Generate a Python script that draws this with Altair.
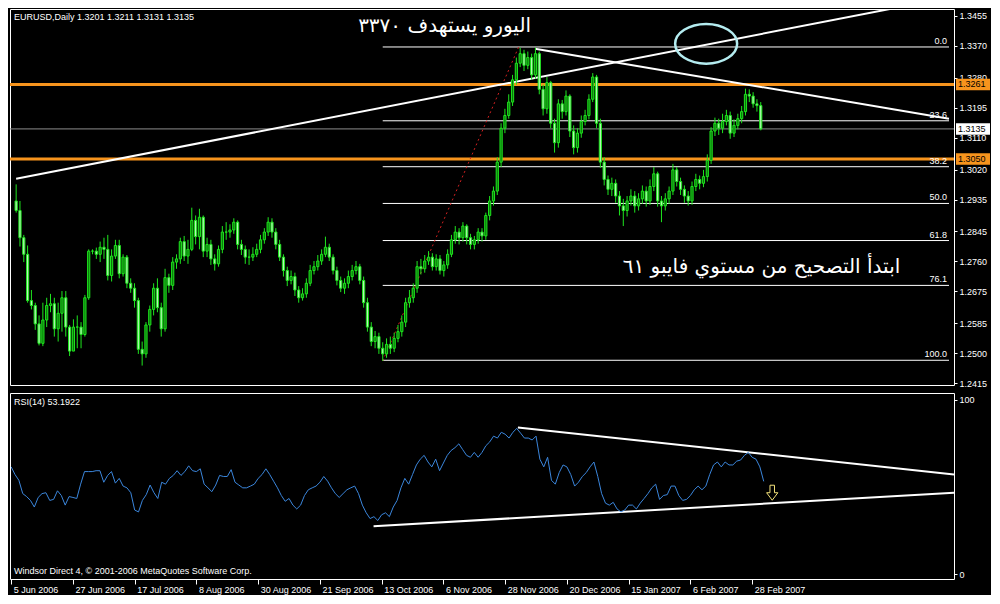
import altair as alt
import pandas as pd

date_labels = ["5 Jun 2006", "27 Jun 2006", "17 Jul 2006", "8 Aug 2006", "30 Aug 2006",
               "21 Sep 2006", "13 Oct 2006", "6 Nov 2006", "28 Nov 2006", "20 Dec 2006",
               "15 Jan 2007", "6 Feb 2007", "28 Feb 2007"]
date_ticks = [0, 16, 32, 48, 64, 80, 96, 112, 128, 144, 160, 176, 192]

closes = [1.2904, 1.2827, 1.2780, 1.2649, 1.2635, 1.2583, 1.2528, 1.2594, 1.2635, 1.2640,
          1.2569, 1.2613, 1.2657, 1.2574, 1.2506, 1.2574, 1.2574, 1.2553, 1.2657, 1.2789,
          1.2789, 1.2780, 1.2800, 1.2794, 1.2720, 1.2775, 1.2805, 1.2725, 1.2772, 1.2698,
          1.2684, 1.2649, 1.2511, 1.2498, 1.2580, 1.2624, 1.2684, 1.2629, 1.2569, 1.2714,
          1.2692, 1.2758, 1.2767, 1.2816, 1.2775, 1.2794, 1.2876, 1.2830, 1.2885, 1.2789,
          1.2808, 1.2767, 1.2753, 1.2794, 1.2843, 1.2843, 1.2849, 1.2871, 1.2808, 1.2794,
          1.2772, 1.2772, 1.2780, 1.2794, 1.2821, 1.2843, 1.2871, 1.2843, 1.2808, 1.2772,
          1.2734, 1.2706, 1.2717, 1.2679, 1.2657, 1.2668, 1.2698, 1.2734, 1.2745, 1.2761,
          1.2780, 1.2800, 1.2772, 1.2734, 1.2706, 1.2684, 1.2698, 1.2717, 1.2734, 1.2745,
          1.2706, 1.2643, 1.2574, 1.2533, 1.2547, 1.2514, 1.2498, 1.2525, 1.2514, 1.2542,
          1.2561, 1.2588, 1.2643, 1.2657, 1.2684, 1.2745, 1.2739, 1.2761, 1.2772, 1.2745,
          1.2767, 1.2734, 1.2750, 1.2780, 1.2821, 1.2843, 1.2827, 1.2860, 1.2827, 1.2808,
          1.2821, 1.2843, 1.2832, 1.2890, 1.2931, 1.2959, 1.3041, 1.3137, 1.3173, 1.3211,
          1.3274, 1.3321, 1.3348, 1.3315, 1.3337, 1.3288, 1.3348, 1.3247, 1.3192, 1.3266,
          1.3151, 1.3096, 1.3206, 1.3184, 1.3228, 1.3129, 1.3082, 1.3123, 1.3156, 1.3173,
          1.3219, 1.3282, 1.3151, 1.3041, 1.2992, 1.2964, 1.2981, 1.2945, 1.2917, 1.2904,
          1.2931, 1.2945, 1.2917, 1.2937, 1.2959, 1.2931, 1.2972, 1.3008, 1.2931, 1.2917,
          1.2937, 1.2959, 1.3019, 1.2986, 1.2964, 1.2945, 1.2931, 1.2972, 1.2992, 1.2981,
          1.3000, 1.3046, 1.3129, 1.3151, 1.3137, 1.3156, 1.3173, 1.3123, 1.3145, 1.3164,
          1.3184, 1.3233, 1.3228, 1.3206, 1.3201, 1.3135]
first_open = 1.2931

highs = [1.2978, 1.2931, 1.2835, 1.2805, 1.2679, 1.2643, 1.2607, 1.2643, 1.2657, 1.2668,
         1.2657, 1.2643, 1.2676, 1.2676, 1.2580, 1.2596, 1.2607, 1.2588, 1.2665, 1.2794,
         1.2794, 1.2799, 1.2816, 1.2827, 1.2835, 1.2794, 1.2821, 1.2821, 1.2780, 1.2778,
         1.2712, 1.2698, 1.2657, 1.2533, 1.2588, 1.2635, 1.2698, 1.2712, 1.2643, 1.2739,
         1.2725, 1.2772, 1.2780, 1.2827, 1.2832, 1.2821, 1.2912, 1.2890, 1.2909, 1.2890,
         1.2827, 1.2821, 1.2780, 1.2805, 1.2860, 1.2871, 1.2865, 1.2882, 1.2876, 1.2821,
         1.2805, 1.2794, 1.2800, 1.2810, 1.2835, 1.2854, 1.2885, 1.2882, 1.2854, 1.2821,
         1.2780, 1.2745, 1.2734, 1.2728, 1.2690, 1.2684, 1.2712, 1.2750, 1.2761, 1.2778,
         1.2794, 1.2830, 1.2810, 1.2780, 1.2745, 1.2717, 1.2712, 1.2734, 1.2750, 1.2761,
         1.2753, 1.2717, 1.2657, 1.2588, 1.2563, 1.2558, 1.2531, 1.2542, 1.2547, 1.2558,
         1.2580, 1.2607, 1.2657, 1.2679, 1.2698, 1.2761, 1.2767, 1.2778, 1.2789, 1.2783,
         1.2780, 1.2778, 1.2761, 1.2794, 1.2835, 1.2860, 1.2854, 1.2871, 1.2865, 1.2838,
         1.2832, 1.2854, 1.2854, 1.2898, 1.2945, 1.2972, 1.3055, 1.3151, 1.3192, 1.3233,
         1.3288, 1.3337, 1.3365, 1.3359, 1.3354, 1.3348, 1.3365, 1.3354, 1.3260, 1.3282,
         1.3271, 1.3164, 1.3219, 1.3217, 1.3244, 1.3233, 1.3145, 1.3137, 1.3173, 1.3189,
         1.3233, 1.3293, 1.3288, 1.3164, 1.3055, 1.3003, 1.2997, 1.2992, 1.2959, 1.2937,
         1.2945, 1.2964, 1.2959, 1.2953, 1.2975, 1.2972, 1.2992, 1.3027, 1.3014, 1.2945,
         1.2953, 1.2972, 1.3036, 1.3027, 1.2997, 1.2975, 1.2959, 1.2986, 1.3008, 1.3003,
         1.3019, 1.3063, 1.3140, 1.3167, 1.3164, 1.3178, 1.3189, 1.3184, 1.3162, 1.3178,
         1.3200, 1.3249, 1.3247, 1.3239, 1.3219, 1.3211]

lows = [1.2898, 1.2802, 1.2758, 1.2643, 1.2624, 1.2566, 1.2522, 1.2520, 1.2574, 1.2616,
        1.2547, 1.2533, 1.2561, 1.2547, 1.2492, 1.2506, 1.2514, 1.2514, 1.2547, 1.2651,
        1.2780, 1.2767, 1.2758, 1.2767, 1.2706, 1.2703, 1.2767, 1.2712, 1.2717, 1.2684,
        1.2671, 1.2629, 1.2498, 1.2465, 1.2487, 1.2561, 1.2607, 1.2616, 1.2547, 1.2561,
        1.2671, 1.2679, 1.2739, 1.2753, 1.2761, 1.2753, 1.2789, 1.2808, 1.2794, 1.2772,
        1.2772, 1.2750, 1.2734, 1.2745, 1.2783, 1.2821, 1.2827, 1.2838, 1.2794, 1.2778,
        1.2753, 1.2750, 1.2761, 1.2772, 1.2783, 1.2810, 1.2832, 1.2827, 1.2794, 1.2761,
        1.2717, 1.2690, 1.2695, 1.2662, 1.2643, 1.2649, 1.2657, 1.2690, 1.2723, 1.2734,
        1.2750, 1.2772, 1.2761, 1.2723, 1.2692, 1.2673, 1.2668, 1.2684, 1.2706, 1.2723,
        1.2695, 1.2629, 1.2561, 1.2520, 1.2514, 1.2498, 1.2478, 1.2487, 1.2498, 1.2503,
        1.2531, 1.2547, 1.2574, 1.2629, 1.2643, 1.2671, 1.2723, 1.2728, 1.2750, 1.2734,
        1.2734, 1.2723, 1.2717, 1.2739, 1.2772, 1.2810, 1.2808, 1.2816, 1.2808, 1.2794,
        1.2794, 1.2810, 1.2816, 1.2821, 1.2876, 1.2918, 1.2948, 1.3027, 1.3123, 1.3164,
        1.3200, 1.3260, 1.3310, 1.3299, 1.3304, 1.3274, 1.3277, 1.3233, 1.3173, 1.3178,
        1.3137, 1.3068, 1.3082, 1.3164, 1.3173, 1.3112, 1.3063, 1.3068, 1.3110, 1.3145,
        1.3162, 1.3211, 1.3137, 1.3025, 1.2975, 1.2948, 1.2945, 1.2926, 1.2890, 1.2860,
        1.2887, 1.2918, 1.2898, 1.2904, 1.2923, 1.2915, 1.2920, 1.2959, 1.2915, 1.2871,
        1.2904, 1.2923, 1.2948, 1.2972, 1.2948, 1.2926, 1.2918, 1.2920, 1.2959, 1.2964,
        1.2970, 1.2986, 1.3036, 1.3115, 1.3118, 1.3123, 1.3145, 1.3107, 1.3112, 1.3134,
        1.3151, 1.3173, 1.3211, 1.3195, 1.3184, 1.3131]

rsi = [61.5, 57.1, 53.8, 46.2, 44.5, 42.3, 38.5, 44.0, 46.2, 46.7,
       42.3, 42.9, 47.8, 45.1, 39.6, 44.5, 44.0, 43.4, 51.6, 58.8,
       58.8, 58.8, 59.3, 59.3, 52.7, 56.6, 58.8, 52.2, 54.9, 50.5,
       49.5, 46.7, 36.8, 35.7, 42.3, 45.6, 51.1, 46.7, 43.4, 52.7,
       51.6, 54.9, 56.6, 59.3, 56.6, 58.8, 62.1, 59.3, 58.8, 60.4,
       51.6, 49.5, 47.3, 51.1, 56.6, 56.0, 56.0, 59.9, 52.7, 51.1,
       49.5, 49.5, 50.5, 51.6, 54.9, 57.1, 60.4, 57.1, 53.3, 49.5,
       45.1, 41.8, 43.4, 39.6, 37.4, 39.6, 45.1, 48.4, 49.5, 50.5,
       52.7, 56.0, 53.3, 49.5, 46.2, 44.0, 46.2, 48.4, 49.5, 50.5,
       46.2, 39.6, 35.2, 31.9, 33.0, 30.8, 34.1, 35.2, 33.0, 38.5,
       42.3, 49.5, 54.9, 51.6, 57.1, 62.6, 65.9, 68.1, 64.3, 61.5,
       65.9, 59.3, 63.7, 68.1, 70.9, 72.5, 74.7, 71.4, 68.1, 67.0,
       69.8, 67.0, 69.8, 73.6, 75.8, 79.1, 78.0, 81.3, 80.2, 78.0,
       81.3, 83.5, 80.8, 78.0, 78.0, 76.9, 79.1, 65.9, 61.5, 67.0,
       53.8, 51.6, 58.2, 62.6, 61.5, 57.1, 50.5, 52.7, 56.0, 58.2,
       61.5, 64.3, 56.0, 46.2, 40.7, 39.6, 41.2, 37.4, 35.7, 36.8,
       39.6, 39.6, 37.4, 40.7, 43.4, 46.2, 49.5, 51.6, 42.9, 45.1,
       45.6, 50.5, 50.5, 45.1, 42.3, 42.9, 45.1, 48.4, 50.5, 48.4,
       50.5, 57.1, 62.6, 64.3, 61.5, 64.3, 62.6, 62.6, 64.8, 65.4,
       68.1, 69.8, 67.0, 65.9, 61.5, 53.19]

fibo_levels = ["0.0", "23.6", "38.2", "50.0", "61.8", "76.1", "100.0"]
fibo_prices = [1.3367, 1.3158, 1.3028, 1.2924, 1.2819, 1.2692, 1.2480]
fibo_start = 96
fibo_end = 244.3

orange_levels = [1.3261, 1.3050]
last_price = 1.3135
price_ticks = [1.3455, 1.3370, 1.3280, 1.3195, 1.3110, 1.3020, 1.2935,
               1.2845, 1.2760, 1.2675, 1.2585, 1.2500, 1.2415]

# trendlines (bar index, price)
price_lines = {"i0": [0, 135.9], "p0": [1.2994, 1.3362],
               "i1": [244.3, 244.3], "p1": [1.3507, 1.3164]}
fibo_trend = {"i0": [96], "p0": [1.2478], "i1": [131.6], "p1": [1.3367]}
rsi_lines = {"i0": [131.3, 93.9], "r0": [84.1, 27.5], "i1": [244.3, 244.3], "r1": [57.1, 46.7]}

ellipse_at = {"i": [180.7], "p": [1.3376]}
arrow_at = {"i": [197.2], "r": [46.7]}

header = "EURUSD,Daily  1.3201 1.3211 1.3131 1.3135"
rsi_title = "RSI(14) 53.1922"
copyright_txt = "Windsor Direct 4, © 2001-2006 MetaQuotes Software Corp."
note1 = {"t": ["اليورو يستهدف ٣٣٧٠"], "i": [112.2], "p": [1.3425]}
note2 = {"t": ["ابتدأ التصحيح من مستوي فايبو ٦١"], "i": [195.2], "p": [1.2745]}

# ---------------- layout ----------------
W = 944
H1 = 376
H2 = 186
FONT = "Liberation Sans"

n = len(closes)
opens = [first_open] + closes[:-1]
df = pd.DataFrame({"i": list(range(n)), "open": opens, "high": highs, "low": lows,
                   "close": closes, "rsi": rsi})

xscale = alt.Scale(domain=[-0.3, 244.3], nice=False, zero=False)
yscale = alt.Scale(domain=[1.2410, 1.34745], nice=False, zero=False)
rscale = alt.Scale(domain=[-2.7, 103.8], nice=False, zero=False)

price_axis = alt.Axis(orient="right", values=price_ticks, format=".4f", title=None,
                      grid=False, domain=False, tickColor="white", tickSize=3,
                      labelColor="white", labelFont=FONT, labelFontSize=9, labelPadding=2)
rsi_axis = alt.Axis(orient="right", values=[0, 100], format="d", title=None,
                    grid=False, domain=False, tickColor="white", tickSize=3,
                    labelColor="white", labelFont=FONT, labelFontSize=9, labelPadding=2)
label_expr = "[" + ",".join("'%s'" % s for s in date_labels) + "][round(datum.value / 16)]"
date_axis = alt.Axis(orient="bottom", values=date_ticks, title=None, grid=False,
                     domain=False, tickColor="white", tickSize=5, labelColor="white",
                     labelFont=FONT, labelFontSize=9, labelAlign="left", labelOffset=2,
                     labelPadding=1, labelExpr=label_expr, labelFlush=False)


def X(f):
    return alt.X(f, scale=xscale, axis=None)


def Y(f):
    return alt.Y(f, scale=yscale, axis=price_axis)


base = alt.Chart(df)
wicks = base.mark_rule(color="#1ee61e", strokeWidth=1, clip=True).encode(
    x=X("i:Q"), y=Y("low:Q"), y2="high:Q")
bodies = base.mark_bar(size=2.2, stroke="#1ee61e", strokeWidth=1, clip=True).encode(
    x=X("i:Q"), y=Y("open:Q"), y2="close:Q",
    fill=alt.condition("datum.close > datum.open", alt.value("#0a760a"), alt.value("#b6f6b6")))

fdf = pd.DataFrame({"lvl": fibo_levels, "p": fibo_prices,
                    "a": [fibo_start] * len(fibo_prices), "b": [fibo_end] * len(fibo_prices)})
fibo = alt.Chart(fdf).mark_rule(color="white", strokeWidth=1, clip=True).encode(
    x=X("a:Q"), x2="b:Q", y=Y("p:Q"))
fibo_txt = alt.Chart(fdf).mark_text(align="right", baseline="bottom", dx=-2, dy=-1,
                                    color="white", font=FONT, fontSize=9).encode(
    x=X("b:Q"), y=Y("p:Q"), text="lvl:N")

odf = pd.DataFrame({"p": orange_levels, "t": ["%.4f" % v for v in orange_levels]})
orange = alt.Chart(odf).mark_rule(color="#f7941d", strokeWidth=3).encode(y=Y("p:Q"))
ldf = pd.DataFrame({"p": [last_price], "t": ["%.4f" % last_price]})
lastline = alt.Chart(ldf).mark_rule(color="#8c8c8c", strokeWidth=1).encode(y=Y("p:Q"))

box_shape = "M-1,-0.34L1,-0.34L1,0.34L-1,0.34Z"
obox = alt.Chart(odf).mark_point(shape=box_shape, size=34 * 34, filled=True, opacity=1,
                                 color="#f7941d").encode(x=alt.value(W + 19), y=Y("p:Q"))
otxt = alt.Chart(odf).mark_text(align="left", baseline="middle", color="black", font=FONT,
                                fontSize=9).encode(x=alt.value(W + 4), y=Y("p:Q"), text="t:N")
lbox = alt.Chart(ldf).mark_point(shape=box_shape, size=34 * 34, filled=True, opacity=1,
                                 color="white").encode(x=alt.value(W + 19), y=Y("p:Q"))
ltxt = alt.Chart(ldf).mark_text(align="left", baseline="middle", color="black", font=FONT,
                                fontSize=9).encode(x=alt.value(W + 4), y=Y("p:Q"), text="t:N")

pl = alt.Chart(pd.DataFrame(price_lines)).mark_rule(color="white", strokeWidth=2, clip=True).encode(
    x=X("i0:Q"), x2="i1:Q", y=Y("p0:Q"), y2="p1:Q")
red = alt.Chart(pd.DataFrame(fibo_trend)).mark_rule(color="#d02020", strokeWidth=1,
                                                    strokeDash=[2, 3], clip=True).encode(
    x=X("i0:Q"), x2="i1:Q", y=Y("p0:Q"), y2="p1:Q")

ell_shape = "M-1,0A1,0.64,0,1,1,1,0A1,0.64,0,1,1,-1,0Z"
ell = alt.Chart(pd.DataFrame(ellipse_at)).mark_point(shape=ell_shape, size=62 * 62, filled=False,
                                                     opacity=1, color="#b4ecf0", strokeWidth=2.5).encode(
    x=X("i:Q"), y=Y("p:Q"))

n1 = alt.Chart(pd.DataFrame(note1)).mark_text(color="white", font="DejaVu Sans", fontSize=20,
                                              baseline="middle").encode(
    x=X("i:Q"), y=Y("p:Q"), text="t:N")
n2 = alt.Chart(pd.DataFrame(note2)).mark_text(color="white", font="DejaVu Sans", fontSize=20,
                                              baseline="middle").encode(
    x=X("i:Q"), y=Y("p:Q"), text="t:N")
hdr = alt.Chart(pd.DataFrame({"t": [header]})).mark_text(
    align="left", baseline="top", color="white", font=FONT, fontSize=9).encode(
    x=alt.value(4), y=alt.value(4), text="t:N")

top = alt.layer(orange, lastline, fibo, fibo_txt, red, pl, wicks, bodies, ell, n1, n2, hdr,
                obox, otxt, lbox, ltxt).properties(width=W, height=H1)

rline = base.mark_line(color="#3b86dc", strokeWidth=1, clip=True).encode(
    x=alt.X("i:Q", scale=xscale, axis=date_axis),
    y=alt.Y("rsi:Q", scale=rscale, axis=rsi_axis))
rl = alt.Chart(pd.DataFrame(rsi_lines)).mark_rule(color="white", strokeWidth=2, clip=True).encode(
    x=alt.X("i0:Q", scale=xscale, axis=date_axis), x2="i1:Q",
    y=alt.Y("r0:Q", scale=rscale, axis=rsi_axis), y2="r1:Q")
arrow_shape = "M-0.3,-1L0.3,-1L0.3,0L0.75,0L0,1L-0.75,0L-0.3,0Z"
arr = alt.Chart(pd.DataFrame(arrow_at)).mark_point(shape=arrow_shape, size=15 * 15, filled=False,
                                                   opacity=1, color="#f3e27a", strokeWidth=1).encode(
    x=alt.X("i:Q", scale=xscale, axis=date_axis), y=alt.Y("r:Q", scale=rscale, axis=rsi_axis))
rt = alt.Chart(pd.DataFrame({"t": [rsi_title]})).mark_text(
    align="left", baseline="top", color="white", font=FONT, fontSize=9).encode(
    x=alt.value(4), y=alt.value(5), text="t:N")
ct = alt.Chart(pd.DataFrame({"t": [copyright_txt]})).mark_text(
    align="left", baseline="bottom", color="white", font=FONT, fontSize=9).encode(
    x=alt.value(4), y=alt.value(H2 - 3), text="t:N")

bottom = alt.layer(rl, rline, arr, rt, ct).properties(width=W, height=H2)

chart = alt.vconcat(top, bottom, spacing=3).properties(
    background="black", padding={"left": 0, "top": 0, "right": 0, "bottom": 0}
).configure_view(stroke="white", strokeWidth=1)

chart.save("out.html", embed_options={"renderer": "svg", "actions": False})
